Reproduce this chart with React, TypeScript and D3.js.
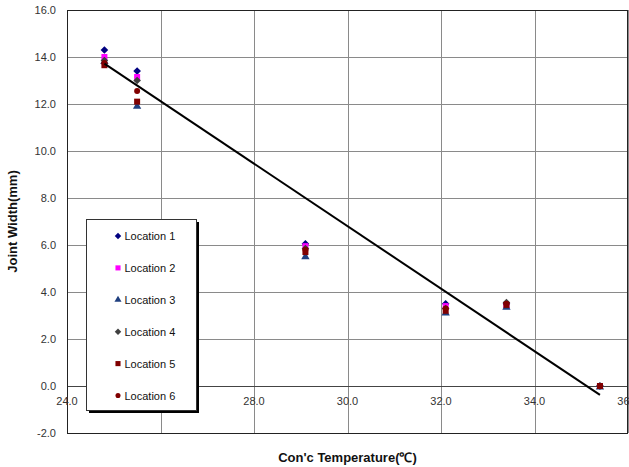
import React from "react";
import * as d3 from "d3";

const temps = [24.8, 25.5, 29.1, 32.1, 33.4, 35.4];
const loc1 = [14.3, 13.4, 6.05, 3.5, 3.5, 0.0];
const loc2 = [14.0, 13.15, 5.95, 3.4, 3.45, 0.0];
const loc3 = [13.8, 11.9, 5.5, 3.1, 3.35, -0.05];
const loc4 = [13.85, 13.0, 5.85, 3.3, 3.55, 0.0];
const loc5 = [13.65, 12.1, 5.7, 3.2, 3.45, 0.0];
const loc6 = [13.75, 12.55, 5.8, 3.3, 3.5, 0.0];
const seriesNames = ["Location 1", "Location 2", "Location 3", "Location 4", "Location 5", "Location 6"];
const trendX = [24.8, 35.4];
const trendY = [13.72, -0.38];
const xTicks = [24, 26, 28, 30, 32, 34, 36];
const xTickLabels = ["24.0", "", "28.0", "30.0", "32.0", "34.0", "36.0"];
const yTicks = [-2, 0, 2, 4, 6, 8, 10, 12, 14, 16];

const W = 629, H = 467;
const L = 67, R = 628, T = 10, B = 433;

const styles = [
  { color: "#000080", shape: "diamond" },
  { color: "#FF00FF", shape: "square" },
  { color: "#1F3F7F", shape: "triangle" },
  { color: "#404040", shape: "diamond" },
  { color: "#800000", shape: "square" },
  { color: "#800000", shape: "circle" },
];

const symType: Record<string, any> = {
  square: d3.symbolSquare,
  triangle: d3.symbolTriangle,
  circle: d3.symbolCircle,
};
const symSize: Record<string, number> = { square: 36, triangle: 30, circle: 28 };

function Marker({ x, y, i, scale = 1 }: { x: number; y: number; i: number; scale?: number }) {
  const s = styles[i];
  let p: string;
  if (s.shape === "diamond") {
    const r = 3.8 * scale;
    p = `M0,${-r}L${r},0L0,${r}L${-r},0Z`;
  } else {
    p = d3.symbol().type(symType[s.shape]).size(symSize[s.shape] * scale * scale)() || "";
  }
  return <path d={p} transform={`translate(${x},${y})`} fill={s.color} />;
}

export default function App() {
  const x = d3.scaleLinear().domain([24, 36]).range([L, R]);
  const y = d3.scaleLinear().domain([-2, 16]).range([B, T]);
  const all = [loc1, loc2, loc3, loc4, loc5, loc6];
  const line = d3.line<number>().x((_, i) => x(trendX[i])).y((d) => y(d));
  const font = "Arial, 'Liberation Sans', sans-serif";
  const legX = 86, legY = 219, legW = 110, legH = 191;

  return (
    <svg width={W} height={H} style={{ position: "absolute", left: 0, top: 0, background: "#fff" }} fontFamily={font}>
      <rect x={0} y={0} width={W} height={H} fill="#fff" />
      {yTicks.map((t) => (
        <line key={"gy" + t} x1={L} x2={R} y1={Math.round(y(t)) + 0.5} y2={Math.round(y(t)) + 0.5} stroke="#8a8a8a" strokeWidth={1} />
      ))}
      {xTicks.map((t) => (
        <line key={"gx" + t} y1={T} y2={B} x1={Math.round(x(t)) + 0.5} x2={Math.round(x(t)) + 0.5} stroke="#8a8a8a" strokeWidth={1} />
      ))}
      <line x1={L} x2={R} y1={Math.round(y(0)) + 0.5} y2={Math.round(y(0)) + 0.5} stroke="#444" strokeWidth={1} />
      <rect x={L + 0.5} y={T + 0.5} width={R - L - 1} height={B - T} fill="none" stroke="#222" strokeWidth={1} />
      {yTicks.map((t) => (
        <text key={"yl" + t} x={56} y={y(t) + 4} textAnchor="end" fontSize={11} fill="#333">
          {t.toFixed(1)}
        </text>
      ))}
      {xTicks.map((t, i) => (
        <text key={"xl" + t} x={x(t)} y={y(0) + 19} textAnchor="middle" fontSize={11} fill="#333">
          {xTickLabels[i]}
        </text>
      ))}
      {all.map((s, si) => (
        <g key={"s" + si}>
          {s.map((v, j) => (
            <Marker key={j} x={x(temps[j])} y={y(v)} i={si} />
          ))}
        </g>
      ))}
      <path d={line(trendY) || ""} fill="none" stroke="#000" strokeWidth={2} />
      <rect x={legX + 3} y={legY + 3} width={legW} height={legH} fill="#000" />
      <rect x={legX + 0.5} y={legY + 0.5} width={legW} height={legH} fill="#fff" stroke="#333" strokeWidth={1} />
      {seriesNames.map((n, i) => {
        const cy = 236 + i * 31.9;
        return (
          <g key={"lg" + i}>
            <Marker x={118} y={cy} i={i} scale={0.85} />
            <text x={124.5} y={cy + 4} fontSize={11} fill="#111">
              {n}
            </text>
          </g>
        );
      })}
      <text x={(L + R) / 2} y={462} textAnchor="middle" fontSize={13} fontWeight="bold" fill="#111">
        Con'c Temperature(℃)
      </text>
      <text transform={`translate(17,${(T + B) / 2}) rotate(-90)`} textAnchor="middle" fontSize={13} fontWeight="bold" fill="#111">
        Joint Width(mm)
      </text>
    </svg>
  );
}
